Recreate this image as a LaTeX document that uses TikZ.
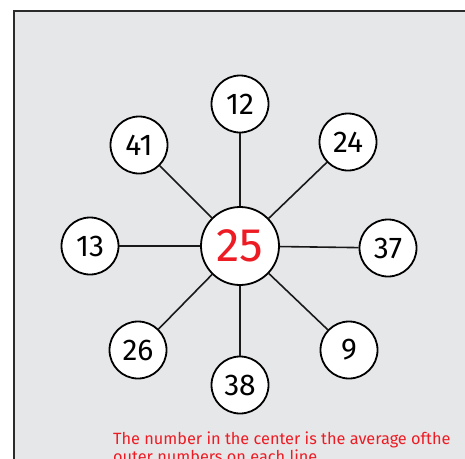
\documentclass[tikz,border=0pt]{standalone}
\usepackage{fontspec}
\setmainfont{Fira Sans}
\definecolor{bggray}{HTML}{E6E7E9}
\definecolor{txtred}{HTML}{ED1C24}
\definecolor{edgegray}{HTML}{2B2B2B}
\begin{document}
\begin{tikzpicture}[x=1pt,y=-1pt,
  outer/.style={circle,draw=black,fill=white,line width=1.8pt,minimum size=57pt,inner sep=0pt,font=\fontsize{30}{30}\selectfont},
  centre/.style={circle,draw=black,fill=white,line width=1.8pt,minimum size=78pt,inner sep=0pt,text=txtred,font=\fontsize{47}{47}\selectfont},
  spoke/.style={line width=1.6pt,draw=black!90},
  note/.style={anchor=base west,inner sep=0pt,text=txtred,font=\fontsize{16.3}{16.3}\selectfont}]
\useasboundingbox (0,0) rectangle (465,458);
\draw[fill=bggray,draw=edgegray,line width=2.4pt] (14,11) rectangle (480,480);
\node[centre] (c) at (240,246) {25};
\node[outer] (n12) at (240,104) {12};
\node[outer] (n41) at (139,145) {41};
\node[outer] (n24) at (348,142) {24};
\node[outer] (n13) at (90,246) {13};
\node[outer] (n37) at (388,248) {37};
\node[outer] (n26) at (138,350) {26};
\node[outer] (n9) at (349,350) {9};
\node[outer] (n38) at (240,385) {38};
\foreach \n in {n12,n41,n24,n13,n37,n26,n9,n38} \draw[spoke] (c) -- (\n);
\node[note] (t1) at (113,444) {The number in the center is the average ofthe};
\node[note] (t2) at (113,462) {outer numbers on each line};
\end{tikzpicture}
\end{document}
